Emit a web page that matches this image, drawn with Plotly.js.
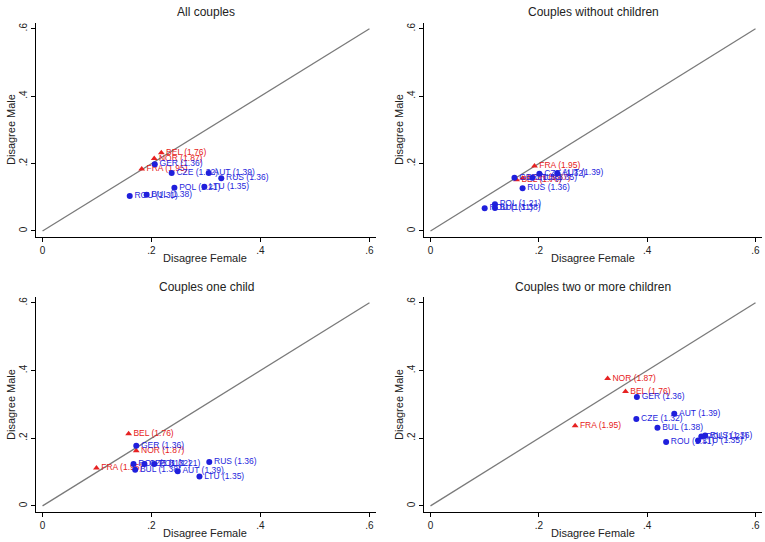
<!DOCTYPE html>
<html><head><meta charset="utf-8">
<script src="https://cdn.plot.ly/plotly-3.0.1.min.js"></script>
<style>html,body{margin:0;padding:0;background:#fff}#g{width:765px;height:542px}</style>
</head><body><div id="g"></div>
<script>
// Countries (label includes TFR) and group membership
const countries = ["BEL (1.76)","NOR (1.87)","FRA (1.95)","GER (1.36)","CZE (1.32)","AUT (1.39)","RUS (1.36)","POL (1.21)","LTU (1.35)","BUL (1.38)","ROU (1.31)"];
const highFertility = [true,true,true,false,false,false,false,false,false,false,false];
const panelTitles = ["All couples","Couples without children","Couples one child","Couples two or more children"];
const xTitle = "Disagree Female";
const yTitle = "Disagree Male";
const tickVals = [0,0.2,0.4,0.6];
const tickText = ["0",".2",".4",".6"];

// Disagree Female (x) / Disagree Male (y), one pair per panel, same country order
const allFemale   = [0.218,0.205,0.182,0.206,0.237,0.305,0.328,0.242,0.297,0.191,0.160];
const allMale     = [0.232,0.215,0.184,0.198,0.172,0.172,0.156,0.128,0.131,0.107,0.104];
const noChFemale  = [0.159,0.170,0.192,0.155,0.201,0.234,0.170,0.119,0.188,0.119,0.100];
const noChMale    = [0.152,0.156,0.193,0.158,0.170,0.171,0.127,0.079,0.158,0.068,0.067];
const oneChFemale = [0.158,0.172,0.099,0.172,0.187,0.248,0.306,0.205,0.288,0.170,0.167];
const oneChMale   = [0.213,0.163,0.112,0.178,0.124,0.102,0.130,0.124,0.087,0.107,0.124];
const twoChFemale = [0.360,0.327,0.267,0.381,0.380,0.450,0.507,0.500,0.494,0.419,0.435];
const twoChMale   = [0.338,0.376,0.237,0.322,0.257,0.272,0.208,0.205,0.193,0.231,0.189];
const diagonal = [0,0.6];

const panels = [[allFemale,allMale],[noChFemale,noChMale],[oneChFemale,oneChMale],[twoChFemale,twoChMale]];
const BLUE = "#1f1fdc", RED = "#e62222";
const FONT = "Liberation Sans, Arial, sans-serif";

const traces = [];
panels.forEach((p, i) => {
  const xa = i === 0 ? "x" : "x" + (i + 1);
  const ya = i === 0 ? "y" : "y" + (i + 1);
  traces.push({x: diagonal, y: diagonal, xaxis: xa, yaxis: ya, mode: "lines",
    line: {color: "#7a7a7a", width: 1.3}, hoverinfo: "skip", showlegend: false});
  [true, false].forEach(grp => {
    const idx = countries.map((c, k) => k).filter(k => highFertility[k] === grp);
    const col = grp ? RED : BLUE;
    traces.push({
      x: idx.map(k => p[0][k]), y: idx.map(k => p[1][k]), text: idx.map(k => countries[k]),
      xaxis: xa, yaxis: ya, mode: "markers+text", textposition: "middle right",
      textfont: {family: FONT, size: 8.5, color: col},
      marker: {symbol: grp ? "triangle-up" : "circle", size: 6, color: col},
      showlegend: false, cliponaxis: false
    });
  });
});

const xDomL = [36/765, 376/765], xDomR = [424/765, 762/765];
const yDomT = [1-237/542, 1-23/542], yDomB = [1-512/542, 1-297/542];
function xax(dom, anchor) {
  return {domain: dom, anchor: anchor, range: [-0.012, 0.612], tickvals: tickVals, ticktext: tickText,
    ticks: "outside", ticklen: 4, tickcolor: "#000", showline: true, linecolor: "#000", linewidth: 1,
    showgrid: false, zeroline: false, tickfont: {family: FONT, size: 10, color: "#222"}};
}
function yax(dom, anchor) {
  return {domain: dom, anchor: anchor, range: [-0.018, 0.617], tickvals: tickVals, ticktext: tickText,
    ticks: "outside", ticklen: 4, tickcolor: "#000", showline: true, linecolor: "#000", linewidth: 1,
    showgrid: false, zeroline: false, tickangle: -90, tickfont: {family: FONT, size: 10, color: "#222"}};
}
const titlePos = [[206, 12], [593, 12], [206, 287], [593, 287]];
const xTitlePos = [[205, 258], [593, 258], [205, 533], [593, 533]];
const yTitlePos = [[11, 130], [399, 130], [11, 405], [399, 405]];
const ann = [];
const px = (x, y) => ({x: x / 765, y: 1 - y / 542});
panelTitles.forEach((t, i) => {
  ann.push(Object.assign({text: t, xref: "paper", yref: "paper", xanchor: "center", yanchor: "middle",
    showarrow: false, font: {family: FONT, size: 12, color: "#222"}}, px(...titlePos[i])));
  ann.push(Object.assign({text: xTitle, xref: "paper", yref: "paper", xanchor: "center", yanchor: "middle",
    showarrow: false, font: {family: FONT, size: 11, color: "#222"}}, px(...xTitlePos[i])));
  ann.push(Object.assign({text: yTitle, xref: "paper", yref: "paper", xanchor: "center", yanchor: "middle",
    textangle: -90, showarrow: false, font: {family: FONT, size: 11, color: "#222"}}, px(...yTitlePos[i])));
});
const layout = {
  width: 765, height: 542, margin: {l: 0, r: 0, t: 0, b: 0},
  paper_bgcolor: "#fff", plot_bgcolor: "#fff", showlegend: false,
  font: {family: FONT},
  xaxis: xax(xDomL, "y"), yaxis: yax(yDomT, "x"),
  xaxis2: xax(xDomR, "y2"), yaxis2: yax(yDomT, "x2"),
  xaxis3: xax(xDomL, "y3"), yaxis3: yax(yDomB, "x3"),
  xaxis4: xax(xDomR, "y4"), yaxis4: yax(yDomB, "x4"),
  annotations: ann
};
Plotly.newPlot("g", traces, layout, {displayModeBar: false, staticPlot: true});
</script></body></html>
